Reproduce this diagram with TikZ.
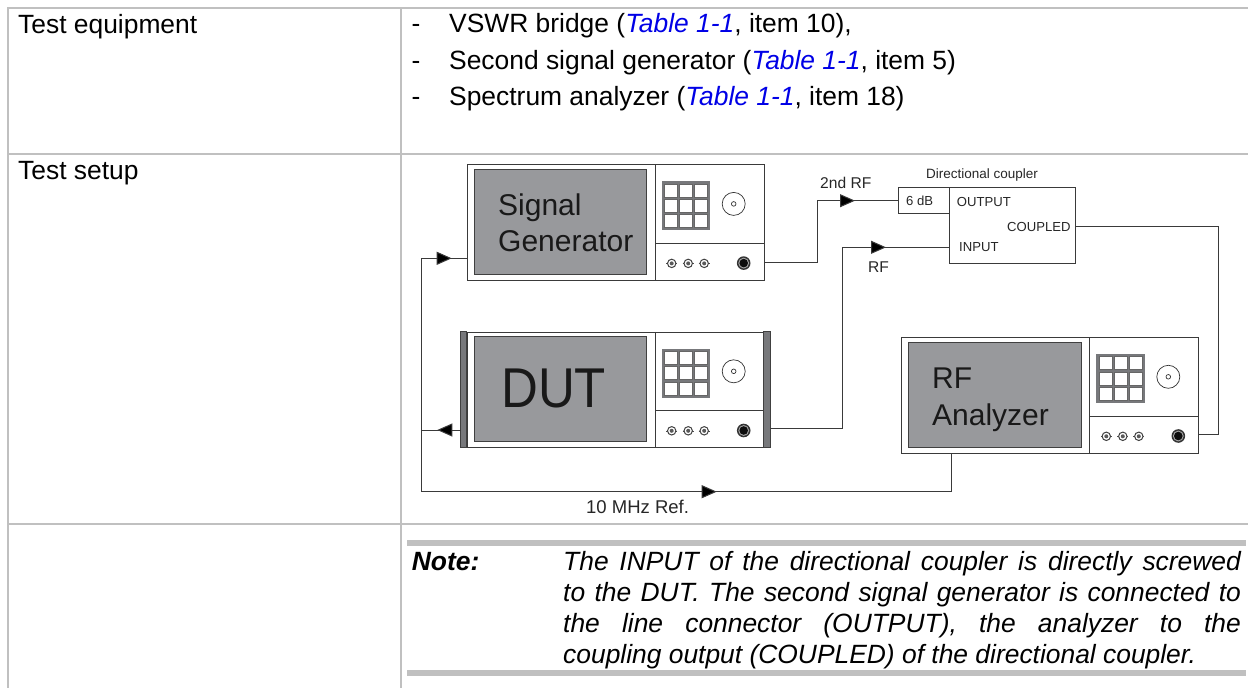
\documentclass[tikz,border=0pt]{standalone}
\usepackage{fontspec}
\setmainfont{Liberation Sans}
\usetikzlibrary{arrows.meta,positioning}

\definecolor{rulegray}{HTML}{C0C0C0}
\definecolor{screengray}{HTML}{98999C}
\definecolor{padgray}{HTML}{77787B}
\definecolor{linegray}{HTML}{3A3A3A}
\definecolor{tablelink}{HTML}{0000E6}

\tikzset{
  tablerule/.style={draw=rulegray,line width=2pt},
  notebar/.style={fill=rulegray},
  celltext/.style={anchor=base west,inner sep=0pt,font=\fontsize{26.4}{30}\selectfont},
  labeltext/.style={anchor=base west,inner sep=0pt,text=black!85,font=\fontsize{13.1}{16}\selectfont},
  rftext/.style={anchor=base west,inner sep=0pt,text=black!85,font=\fontsize{15.6}{18}\selectfont},
  screentext/.style={anchor=base west,inner sep=0pt,text=black!90,font=\fontsize{30}{36}\selectfont},
  panelbox/.style={draw=linegray,line width=1pt,fill=white,anchor=north west,inner sep=0pt,minimum width=297pt,minimum height=115.5pt},
  signal/.style={draw=linegray,line width=1pt},
  signalarrow/.style={signal,-{Triangle[length=15pt,width=13pt,fill=black]}}
}

% One instrument front: #1 name, #2 left edge, #3 top edge
\newcommand{\frontpanel}[3]{
  \node[panelbox] (#1) at (#2,#3) {};
  \begin{scope}[shift={(#2,#3)}]
    % Screen
    \draw[fill=screengray,draw=black!75,line width=.8pt] (7.5,5) rectangle (180,110);
    % Dividers
    \draw[linegray,line width=1pt] (188.3,0) -- (188.3,115.5);
    \draw[linegray,line width=1pt] (188.3,79) -- (297,79);
    % Keypad
    \fill[padgray] (195,16.8) rectangle (243.4,66);
    \foreach \col in {0,1,2}
      \foreach \row in {0,1,2}
        \draw[fill=white,draw=black!60,line width=.4pt] (197.5+\col*15.1,19.3+\row*15.3) rectangle +(13,13);
    % Knob
    \draw[black!80,line width=.7pt] (267,39.5) circle (11.5);
    \draw[black!80,line width=.7pt] (267,39.5) circle (2.3);
    % Small sockets
    \foreach \sx in {205,221.5,237.5} {
      \draw[black!70,line width=.6pt] (\sx-5.5,99) -- (\sx+5.5,99);
      \draw[fill=white,draw=black!75,line width=1pt] (\sx,99) circle (4.2);
      \fill[black!65] (\sx,99) circle (2);
    }
    % Large socket
    \fill[black!80] (277,98.7) circle (6.8);
    \fill[black!35] (277,98.7) circle (5.4);
    \fill[black!95] (277,98.7) circle (4.3);
  \end{scope}
}

\begin{document}
\begin{tikzpicture}[x=1pt,y=-1pt]
\useasboundingbox (0,0) rectangle (1248,688);

% Table rules
\draw[tablerule] (8,688) -- (8,8) coordinate (tl) -- (1248,8);
\draw[tablerule] (401,8) -- (401,688);
\draw[tablerule] (8,154) -- (1248,154);
\draw[tablerule] (8,523.7) -- (1248,523.7);

% Table texts
\node[celltext] (equiphead) at (18,33) {Test equipment};
\node[celltext] (setuphead) at (18,179.5) {Test setup};
\node[celltext] (dashA) at (411.5,32.7) {-};
\node[celltext] (dashB) at (411.5,69.2) {-};
\node[celltext] (dashC) at (411.5,105.7) {-};
\node[celltext] (itemA) at (449,32.7) {VSWR bridge (\textcolor{tablelink}{\textit{Table 1-1}}, item 10),};
\node[celltext] (itemB) at (449,69.2) {Second signal generator (\textcolor{tablelink}{\textit{Table 1-1}}, item 5)};
\node[celltext] (itemC) at (449,105.7) {Spectrum analyzer (\textcolor{tablelink}{\textit{Table 1-1}}, item 18)};

% Instruments
\frontpanel{siggen}{466.7}{164.4}
\frontpanel{dut}{466.7}{331.8}
\frontpanel{analyzer}{901.3}{337.3}

% Handles of the DUT
\draw[fill=padgray,draw=black!75,line width=.8pt] (460.5,331.8) rectangle (466.7,447.3);
\draw[fill=padgray,draw=black!75,line width=.8pt] (763.7,331.8) rectangle (770.5,447.3);

% Screen labels
\node[screentext] (siglabel) at (498,215) {Signal};
\node[screentext] (genlabel) at (498,251.7) {Generator};
\node[anchor=base west,inner sep=0pt,text=black!90,font=\fontsize{51}{60}\selectfont] (dutlabel) at (501,407.3) {\scalebox{1}[1.1]{DUT}};
\node[screentext] (rflabel) at (932,388.3) {RF};
\node[screentext] (analabel) at (932,425.7) {Analyzer};

% Directional coupler
\node[draw=linegray,line width=1pt,anchor=north west,inner sep=0pt,minimum width=51.3pt,minimum height=26pt] (atten) at (897.7,187.3) {};
\node[draw=linegray,line width=1pt,anchor=north west,inner sep=0pt,minimum width=126pt,minimum height=75.4pt] (coupler) at (949,187.3) {};
\node[labeltext] (couplerhead) at (926,178.3) {\fontsize{13.5}{16}\selectfont Directional coupler};
\node[labeltext] (attenlabel) at (906,205.7) {6 dB};
\node[labeltext] (outlabel) at (956.7,206) {OUTPUT};
\node[labeltext] (coupledlabel) at (1007,231.7) {COUPLED};
\node[labeltext] (inlabel) at (959,251.3) {INPUT};

% Second RF into the attenuator
\coordinate (genout) at (764.2,262);
\coordinate (genupper) at (817.5,200.7);
\draw[signal] (genout) -- (genout -| genupper) -- (genupper) -- (atten.west |- genupper);
\draw[signalarrow] (genupper) -- (855,200.7);
\node[rftext] (secondrf) at (820,188.3) {2nd RF};

% RF from the DUT into the coupler input
\coordinate (dutout) at (770.7,428.3);
\coordinate (rfupper) at (842.7,247.3);
\draw[signal] (dutout) -- (dutout -| rfupper) -- (rfupper) -- (coupler.west |- rfupper);
\draw[signalarrow] (rfupper) -- (886,247.3);
\node[rftext] (rftag) at (868,272.3) {RF};

% Coupled output to the analyzer
\coordinate (coupledout) at (1075,226.3);
\coordinate (anaturn) at (1218,434);
\draw[signal] (coupledout) -- (coupledout -| anaturn) -- (anaturn) -- (analyzer.east |- anaturn);

% Reference loop
\coordinate (refcorner) at (421.7,491.7);
\coordinate (gentip) at (451.7,258.3);
\coordinate (duttip) at (437.3,430);
\draw[signal] (analyzer.south -| 951,0) -- (951,491.7) -- (refcorner) -- (refcorner |- gentip) -- (siggen.west |- gentip);
\draw[signal] (refcorner |- duttip) -- (460.5,430);
\draw[signalarrow] (refcorner |- gentip) -- (gentip);
\draw[signalarrow] (460.5,430) -- (duttip);
\draw[signalarrow] (refcorner) -- (716.7,491.7);
\node[anchor=base west,inner sep=0pt,text=black!85,font=\fontsize{18.5}{20}\selectfont] (reflabel) at (586,513.3) {10 MHz Ref.};

% Note
\fill[notebar] (406.7,540) rectangle (1245.7,546);
\fill[notebar] (406.7,670) rectangle (1245.7,675.7);
\node[celltext] (notehead) at (411.7,570.7) {\textbf{\textit{Note:}}};
\node[anchor=north west,inner sep=0pt,text width=677.7pt,align=justify,font=\fontsize{26.4}{31}\selectfont\itshape] (notebody) at (563,551.4) {%
The INPUT of the directional coupler is directly screwed\linebreak
to the DUT. The second signal generator is connected to\linebreak
the line connector (OUTPUT), the analyzer to the\linebreak
coupling output (COUPLED) of the directional coupler.};
\end{tikzpicture}
\end{document}
